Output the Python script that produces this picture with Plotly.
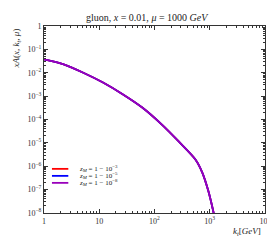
import plotly.graph_objects as go

# ---- data ----
kt = [1, 2.27, 5.15, 11.7, 26.5, 60, 136, 274, 550, 733, 938, 1150, 1250]
xA_log10 = [-1.43, -1.64, -2.00, -2.42, -2.92, -3.49, -4.22, -4.94, -5.71, -6.27,
            -7.04, -7.89, -8.3]
xA = [10 ** v for v in xA_log10]

series_names = ["<i>z<sub>M</sub></i> = 1 − 10<sup>−3</sup>",
                "<i>z<sub>M</sub></i> = 1 − 10<sup>−5</sup>",
                "<i>z<sub>M</sub></i> = 1 − 10<sup>−8</sup>"]
series_colors = ["#ff0000", "#0000ff", "#9900bb"]
series_values = [xA, xA, xA]

x_tickvals = [1, 10, 100, 1000, 10000]
x_ticktext = ["1", "10", "10<sup>2</sup>", "10<sup>3</sup>", "10<sup>4</sup>"]
y_tickvals = [1, 1e-1, 1e-2, 1e-3, 1e-4, 1e-5, 1e-6, 1e-7, 1e-8]
y_ticktext = ["1"] + ["10<sup>−%d</sup>" % i for i in range(1, 9)]

FONT = "Liberation Serif"

fig = go.Figure()
for name, col, vals in zip(series_names, series_colors, series_values):
    fig.add_trace(go.Scatter(x=kt, y=vals, mode="lines", name=name,
                             line=dict(color=col, width=1.8, shape="spline", smoothing=0.8),
                             showlegend=False))

axis_common = dict(
    type="log", showgrid=False, zeroline=False, showline=True,
    linecolor="#333333", linewidth=1, mirror="allticks",
    ticks="inside", ticklen=4, tickcolor="#333333", tickwidth=1,
    tickfont=dict(family=FONT, size=8, color="#333333"),
    minor=dict(ticks="inside", ticklen=2, tickcolor="#333333", dtick="D1", showgrid=False),
)

fig.update_layout(
    width=275, height=246,
    margin=dict(l=36, r=14, t=18, b=41),
    paper_bgcolor="white", plot_bgcolor="white",
    font=dict(family=FONT, color="#222222"),
    xaxis=dict(range=[0, 4], tickmode="array", tickvals=x_tickvals, ticktext=x_ticktext,
               **axis_common),
    yaxis=dict(range=[-8, 0], tickmode="array", tickvals=y_tickvals, ticktext=y_ticktext,
               **axis_common),
    showlegend=False,
)

ann = [
    dict(text="gluon, <i>x</i> = 0.01, <i>μ</i> = 1000 <i>GeV</i>", x=0.47, y=1.0,
         yshift=9, xref="paper", yref="paper", showarrow=False,
         font=dict(size=10, family=FONT, color="#222222"), yanchor="middle"),
    dict(text="<i>xA</i>(<i>x</i>, <i>k<sub>t</sub></i>, <i>μ</i>)", x=-0.125, y=1.0,
         xref="paper", yref="paper", showarrow=False, textangle=-90,
         xanchor="center", yanchor="top", font=dict(size=9, family=FONT, color="#222222")),
    dict(text="<i>k<sub>t</sub></i>[<i>GeV</i>]", x=0.99, y=0, yshift=-18,
         xref="paper", yref="paper", showarrow=False, xanchor="right", yanchor="middle",
         font=dict(size=9, family=FONT, color="#222222")),
    dict(text="TMDplotter 2.2.0", x=1.0, xshift=6, y=0.17, xref="paper", yref="paper",
         showarrow=False, textangle=-90, xanchor="center", yanchor="middle", borderpad=0,
         font=dict(size=7, family=FONT, color="#222222")),
]

shapes = []
leg_top = 0.236
leg_dy = 7 / 187
for i, (name, col) in enumerate(zip(series_names, series_colors)):
    yy = leg_top - i * leg_dy
    shapes.append(dict(type="line", xref="paper", yref="paper",
                       x0=0.036, x1=0.11, y0=yy, y1=yy, line=dict(color=col, width=1.8)))
    ann.append(dict(text=name, x=0.15, y=yy, xref="paper", yref="paper", showarrow=False,
                    xanchor="left", yanchor="middle",
                    font=dict(size=7, family=FONT, color="#222222")))

fig.update_layout(annotations=ann, shapes=shapes)
fig.write_html("out.html")
